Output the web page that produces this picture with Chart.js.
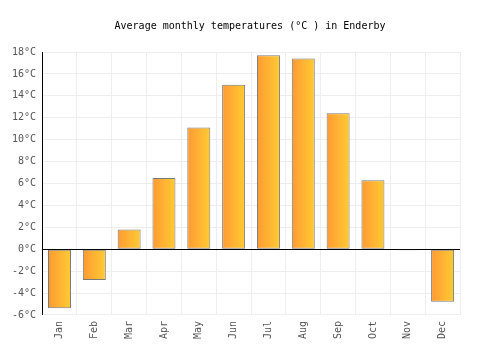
<!DOCTYPE html>
<html>
<head>
<meta charset="utf-8">
<script src="https://cdn.jsdelivr.net/npm/chart.js@4.4.0/dist/chart.umd.min.js"></script>
<style>
  html, body { margin: 0; padding: 0; background: #fff; }
  #wrap { width: 500px; height: 350px; }
</style>
</head>
<body>
<div id="wrap"><canvas id="chart" width="500" height="350"></canvas></div>
<script>
const months = ['Jan', 'Feb', 'Mar', 'Apr', 'May', 'Jun', 'Jul', 'Aug', 'Sep', 'Oct', 'Nov', 'Dec'];
const temps = [-5.4, -2.8, 1.8, 6.5, 11.1, 15.0, 17.7, 17.4, 12.4, 6.3, -0.1, -4.8];
const yMin = -6;
const yMax = 18;
const yStep = 2;
const titleText = 'Average monthly temperatures (°C ) in Enderby';

const font = 'DejaVu Sans Mono';
const barPct = 0.66;

// left->right gradient across each single bar
function barFill(ctx) {
  const chart = ctx.chart;
  const xs = chart.scales.x;
  if (!xs || ctx.dataIndex === undefined) return '#ffb233';
  const cx = xs.getPixelForValue(ctx.dataIndex);
  const w = (xs.width / months.length) * barPct;
  if (!isFinite(cx) || !isFinite(w) || w <= 0) return '#ffb233';
  const g = chart.ctx.createLinearGradient(cx - w / 2, 0, cx + w / 2, 0);
  g.addColorStop(0, '#ff9a33');
  g.addColorStop(1, '#ffcb33');
  return g;
}

// title centred on the whole canvas
const centredTitle = {
  id: 'centredTitle',
  afterDraw(chart) {
    const c = chart.ctx;
    c.save();
    c.font = '10px "' + font + '"';
    c.fillStyle = '#000';
    c.textAlign = 'center';
    c.textBaseline = 'middle';
    c.fillText(titleText, chart.width / 2, 26);
    c.restore();
  }
};

new Chart(document.getElementById('chart'), {
  type: 'bar',
  data: {
    labels: months,
    datasets: [{
      data: temps,
      backgroundColor: barFill,
      borderColor: '#7a7a7a',
      borderWidth: 1,
      borderSkipped: false,
      barPercentage: barPct,
      categoryPercentage: 1
    }]
  },
  options: {
    responsive: false,
    animation: false,
    layout: { padding: { left: 6, right: 40, top: 52, bottom: 5 } },
    plugins: {
      legend: { display: false },
      tooltip: { enabled: false },
      title: { display: false }
    },
    scales: {
      x: {
        grid: { color: '#eeeeee', drawTicks: false },
        border: { display: false },
        ticks: {
          color: '#555',
          font: { family: font, size: 10 },
          maxRotation: 90,
          minRotation: 90,
          padding: 6
        }
      },
      y: {
        min: yMin,
        max: yMax,
        grid: {
          color: ctx => ctx.tick && ctx.tick.value === 0 ? '#000' : '#eeeeee',
          drawTicks: false
        },
        border: { display: true, color: '#000', width: 1 },
        ticks: {
          stepSize: yStep,
          color: '#555',
          font: { family: font, size: 10 },
          padding: 6,
          callback: v => v + '°C'
        }
      }
    }
  },
  plugins: [centredTitle]
});
</script>
</body>
</html>
